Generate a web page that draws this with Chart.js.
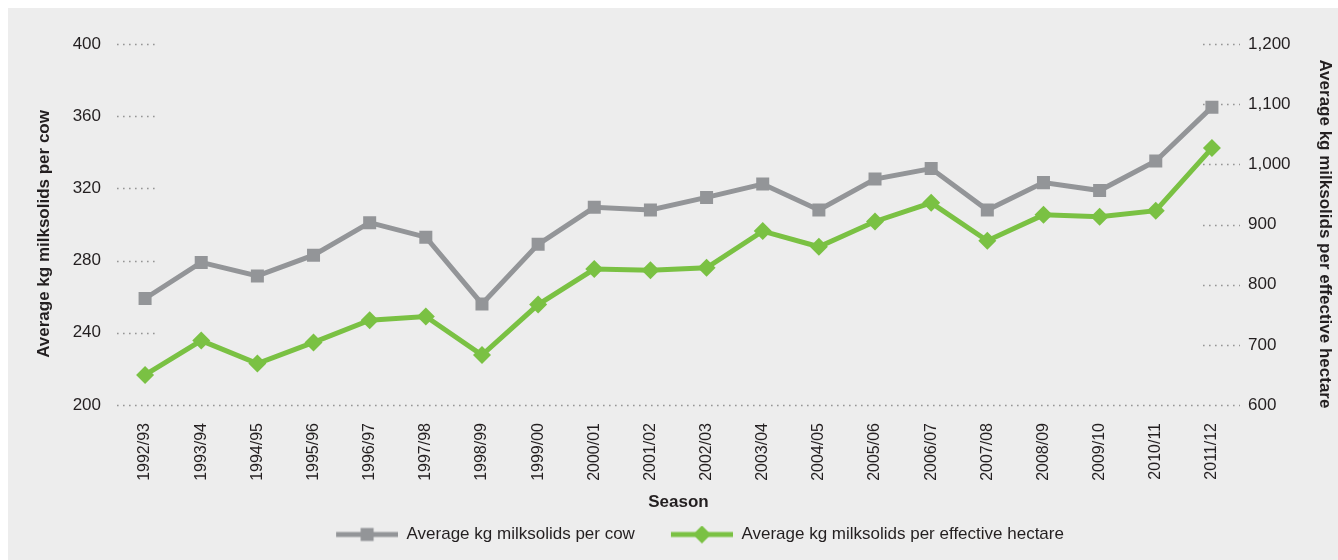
<!DOCTYPE html>
<html>
<head>
<meta charset="utf-8">
<script src="https://cdn.jsdelivr.net/npm/chart.js@4"></script>
<style>
  html, body { margin: 0; padding: 0; background: #ffffff; }
  #wrap { position: absolute; left: 8px; top: 8px; width: 1330px; height: 552px; background: #ededed; }
</style>
</head>
<body>
<div id="wrap"><canvas id="chart"></canvas></div>
<script>
const seasons = ['1992/93', '1993/94', '1994/95', '1995/96', '1996/97', '1997/98', '1998/99', '1999/00', '2000/01', '2001/02',
    '2002/03', '2003/04', '2004/05', '2005/06', '2006/07', '2007/08', '2008/09', '2009/10', '2010/11', '2011/12'];
const perCow = [259, 279, 271.5, 283, 301, 293, 256, 289, 309.5, 308, 315, 322.4, 308, 325.2, 331, 308, 323.2, 318.8, 335.2, 365];
const perHectare = [650, 707, 669, 704, 741, 747, 683, 767, 826, 824, 828, 889, 863, 905, 936, 873, 916, 913, 923, 1027];
const cowTicks = [200, 240, 280, 320, 360, 400];
const hectareTicks = [600, 700, 800, 900, 1000, 1100, 1200];

const GREY = '#939598';
const GREEN = '#7ac143';
const TEXT = '#231f20';
const FONT = "'Liberation Sans', Arial, sans-serif";
const SYMBOL_W = 98; // 36 blank + 62 line

//legend symbol: line with marker, blank space on the left for spacing
const legendSymbol = (color, style) => {
    const c = document.createElement('canvas');
    c.width = SYMBOL_W;
    c.height = 20;
    const g = c.getContext('2d');
    const x0 = SYMBOL_W - 62;
    g.strokeStyle = color;
    g.fillStyle = color;
    g.lineWidth = 5;
    g.beginPath();
    g.moveTo(x0, 10);
    g.lineTo(SYMBOL_W, 10);
    g.stroke();
    const cx = x0 + 31;
    g.beginPath();
    if (style === 'rect') {
        g.rect(cx - 6.5, 10 - 6.5, 13, 13);
    } else {
        g.moveTo(cx - 9, 10); g.lineTo(cx, 1); g.lineTo(cx + 9, 10); g.lineTo(cx, 19);
        g.closePath();
    }
    g.fill();
    return c;
};
const symbols = [legendSymbol(GREY, 'rect'), legendSymbol(GREEN, 'rectRot')];

//dotted stubs at each tick, the bottom one runs the full width
const stubPlugin = {
    id: 'stubs',
    beforeDatasetsDraw(chart) {
        const { ctx, chartArea } = chart;
        const left = chart.scales.y;
        const right = chart.scales.y2;
        ctx.save();
        ctx.strokeStyle = '#959595';
        ctx.lineWidth = 1.6;
        ctx.setLineDash([1.6, 4.4]);
        const line = (x0, x1, y) => {
            ctx.beginPath();
            ctx.moveTo(x0, y);
            ctx.lineTo(x1, y);
            ctx.stroke();
        };
        left.ticks.forEach((t, i) => {
            const y = Math.round(left.getPixelForValue(t.value)) + 0.5;
            line(chartArea.left, i === 0 ? chartArea.right : chartArea.left + 40, y);
        });
        right.ticks.forEach((t, i) => {
            if (i === 0) return;
            const y = Math.round(right.getPixelForValue(t.value)) + 0.5;
            line(chartArea.right - 37, chartArea.right, y);
        });
        ctx.restore();
    }
};

new Chart(document.getElementById('chart'), {
    type: 'line',
    data: {
        labels: seasons,
        datasets: [{
            label: 'Average kg milksolids per cow',
            data: perCow,
            yAxisID: 'y',
            borderColor: GREY,
            backgroundColor: GREY,
            borderWidth: 5,
            pointStyle: 'rect',
            pointRadius: 9.2,
            pointHoverRadius: 9.2,
            pointBorderWidth: 0,
            tension: 0
        }, {
            label: 'Average kg milksolids per effective hectare',
            data: perHectare,
            yAxisID: 'y2',
            borderColor: GREEN,
            backgroundColor: GREEN,
            borderWidth: 5,
            pointStyle: 'rectRot',
            pointRadius: 9,
            pointHoverRadius: 9,
            pointBorderWidth: 0,
            tension: 0
        }]
    },
    options: {
        responsive: true,
        maintainAspectRatio: false,
        animation: false,
        layout: { padding: { top: 36, bottom: 7, left: 18, right: 0 } },
        plugins: {
            tooltip: { enabled: false },
            legend: {
                position: 'bottom',
                labels: {
                    usePointStyle: true,
                    pointStyleWidth: SYMBOL_W,
                    padding: 0,
                    color: TEXT,
                    font: { family: FONT, size: 17 },
                    generateLabels(chart) {
                        const items = Chart.defaults.plugins.legend.labels.generateLabels(chart);
                        items.forEach((it, i) => { it.pointStyle = symbols[i]; });
                        return items;
                    }
                }
            }
        },
        scales: {
            x: {
                offset: true,
                grid: { display: false },
                border: { display: false },
                ticks: {
                    color: TEXT,
                    font: { family: FONT, size: 16 },
                    minRotation: 90,
                    maxRotation: 90,
                    padding: 10
                },
                title: {
                    display: true,
                    text: 'Season',
                    color: TEXT,
                    font: { family: FONT, size: 17, weight: 'bold' },
                    padding: { top: 0, bottom: 13 }
                },
                afterFit(scale) { scale.height = 121; }
            },
            y: {
                position: 'left',
                min: 200,
                max: 400,
                afterBuildTicks(scale) { scale.ticks = cowTicks.map(v => ({ value: v })); },
                grid: { display: false, drawTicks: false },
                border: { display: false },
                ticks: {
                    color: TEXT,
                    font: { family: FONT, size: 17 },
                    padding: 16
                },
                title: {
                    display: true,
                    text: 'Average kg milksolids per cow    ',
                    color: TEXT,
                    font: { family: FONT, size: 17, weight: 'bold' },
                    padding: { top: 8, bottom: 0 }
                },
                afterFit(scale) { scale.width = 91; }
            },
            y2: {
                position: 'right',
                min: 600,
                max: 1200,
                afterBuildTicks(scale) { scale.ticks = hectareTicks.map(v => ({ value: v })); },
                grid: { display: false, drawTicks: false },
                border: { display: false },
                ticks: {
                    color: TEXT,
                    font: { family: FONT, size: 17 },
                    padding: 8,
                    callback: v => v.toLocaleString('en-US')
                },
                title: {
                    display: true,
                    text: '    Average kg milksolids per effective hectare',
                    color: TEXT,
                    font: { family: FONT, size: 17, weight: 'bold' },
                    padding: { top: 3, bottom: 0 }
                },
                afterFit(scale) { scale.width = 98; }
            }
        }
    },
    plugins: [stubPlugin]
});
</script>
</body>
</html>
